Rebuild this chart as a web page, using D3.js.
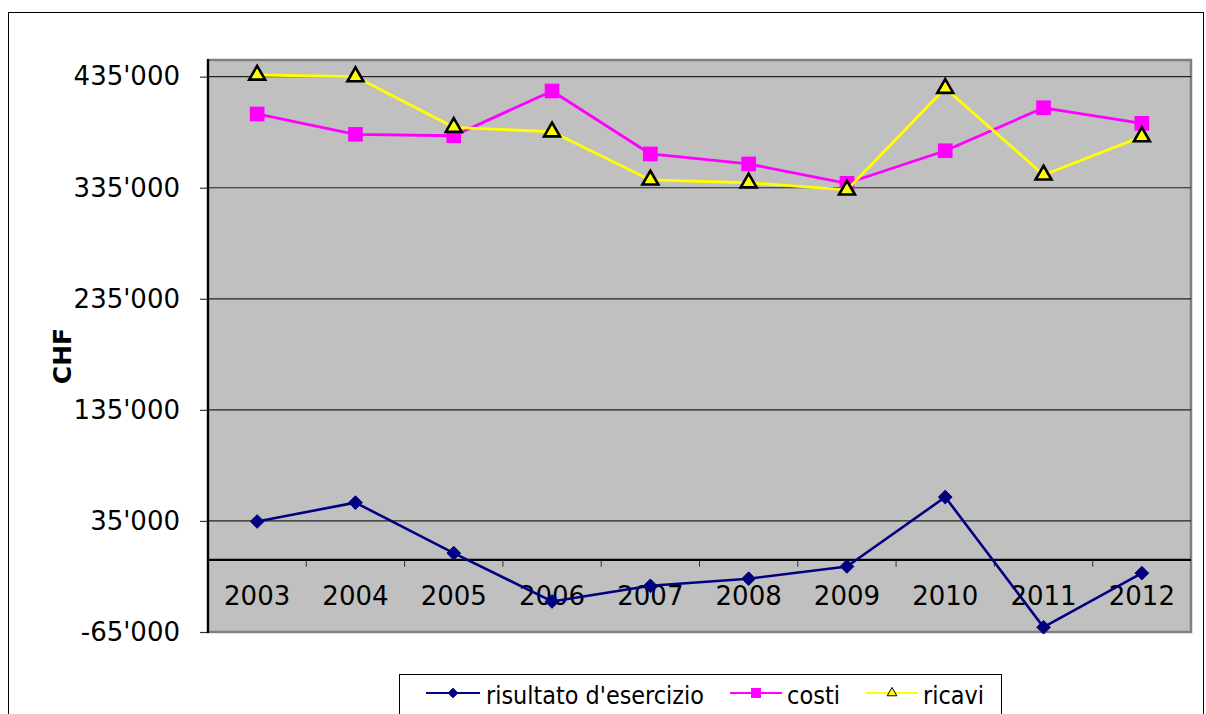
<!DOCTYPE html>
<html lang="it">
<head>
  <meta charset="UTF-8" />
  <title>risultato d'esercizio</title>
  <script src="https://d3js.org/d3.v7.min.js"></script>
  <style>
    html, body {
      margin: 0;
      padding: 0;
      background: #fff;
      font-family: "DejaVu Sans", Verdana, sans-serif;
    }
    svg { display: block; }
  </style>
</head>
<body>
  <svg width="1206" height="714"></svg>

  <script>
    // ---------------------------------------------------------
    // Data
    // ---------------------------------------------------------
    const years = ["2003", "2004", "2005", "2006", "2007", "2008", "2009", "2010", "2011", "2012"];
    const risultato = [34500, 51500, 6000, -37500, -23400, -17000, -6000, 56500, -60700, -12000];
    const costi = [401400, 383100, 381800, 422100, 365400, 356400, 339000, 368300, 407000, 393000];
    const ricavi = [436500, 435000, 389400, 385400, 342000, 339500, 333000, 424500, 346500, 381000];
    const yTicks = [-65000, 35000, 135000, 235000, 335000, 435000];
    const seriesNames = ["risultato d'esercizio", "costi", "ricavi"];

    // ---------------------------------------------------------
    // Layout
    // ---------------------------------------------------------
    const svg = d3.select("svg");
    const plot = { left: 208, right: 1191, top: 60, bottom: 632 };

    const x = d3.scaleBand()
      .domain(years)
      .range([plot.left, plot.right])
      .padding(0);
    const cx = d => x(d) + x.bandwidth() / 2;

    const y = d3.scaleLinear()
      .domain([-65000, 450000])
      .range([plot.bottom, plot.top]);

    const fmt = d3.formatLocale({
      decimal: ".", thousands: "'", grouping: [3], currency: ["", ""], minus: "-"
    }).format(",");

    // outer chart frame
    svg.append("rect")
      .attr("x", 8.5).attr("y", 12.5)
      .attr("width", 1195).attr("height", 720)
      .attr("fill", "#fff")
      .attr("stroke", "#000")
      .attr("stroke-width", 1);

    // plot background + border
    svg.append("rect")
      .attr("x", plot.left).attr("y", plot.top)
      .attr("width", plot.right - plot.left)
      .attr("height", plot.bottom - plot.top)
      .attr("fill", "#c0c0c0")
      .attr("stroke", "#808080")
      .attr("stroke-width", 2.5);

    // gridlines
    svg.append("g")
      .selectAll("line")
      .data(yTicks.slice(1))
      .join("line")
      .attr("x1", plot.left).attr("x2", plot.right)
      .attr("y1", d => y(d)).attr("y2", d => y(d))
      .attr("stroke", "#222")
      .attr("stroke-width", 1.2);

    // y axis (left)
    const yAxis = svg.append("g")
      .attr("transform", `translate(${plot.left},0)`)
      .call(d3.axisLeft(y).tickValues(yTicks).tickFormat(fmt).tickSize(8).tickPadding(20));
    yAxis.select(".domain").remove();
    yAxis.selectAll(".tick line").attr("stroke", "#333").attr("stroke-width", 1.2);
    yAxis.selectAll(".tick text")
      .attr("font-family", "DejaVu Sans, Verdana, sans-serif")
      .attr("font-size", 26)
      .attr("fill", "#000");

    svg.append("line")
      .attr("x1", plot.left).attr("x2", plot.left)
      .attr("y1", plot.top - 1).attr("y2", plot.bottom + 1)
      .attr("stroke", "#000")
      .attr("stroke-width", 2.2);

    // x axis on the zero line, ticks between categories
    const zeroY = y(0);
    svg.append("line")
      .attr("x1", plot.left).attr("x2", plot.right)
      .attr("y1", zeroY).attr("y2", zeroY)
      .attr("stroke", "#000")
      .attr("stroke-width", 2.2);

    svg.append("g")
      .selectAll("line")
      .data(years.slice(1))
      .join("line")
      .attr("x1", d => x(d)).attr("x2", d => x(d))
      .attr("y1", zeroY).attr("y2", zeroY + 7)
      .attr("stroke", "#333")
      .attr("stroke-width", 1);

    svg.append("g")
      .selectAll("text")
      .data(years)
      .join("text")
      .attr("x", d => cx(d))
      .attr("y", 605)
      .attr("text-anchor", "middle")
      .attr("font-size", 26)
      .attr("fill", "#000")
      .text(d => d);

    // y axis title
    svg.append("text")
      .attr("transform", "translate(71,356) rotate(-90)")
      .attr("text-anchor", "middle")
      .attr("font-size", 25)
      .attr("font-weight", "bold")
      .attr("fill", "#000")
      .text("CHF");

    // ---------------------------------------------------------
    // Series
    // ---------------------------------------------------------
    const line = d3.line()
      .x((d, i) => cx(years[i]))
      .y(d => y(d));

    const diamond = d3.symbol().type(d3.symbolDiamond2).size(120);
    const square = d3.symbol().type(d3.symbolSquare).size(215);
    const triangle = d3.symbol().type(d3.symbolTriangle).size(110);

    const series = [
      { values: risultato, color: "#000080", sym: diamond, stroke: "#000080", sw: 1, lw: 2.6, legendSym: d3.symbol().type(d3.symbolDiamond2).size(60) },
      { values: costi, color: "#ff00ff", sym: square, stroke: "none", sw: 0, lw: 2.8, legendSym: d3.symbol().type(d3.symbolSquare).size(100) },
      { values: ricavi, color: "#ffff00", sym: triangle, stroke: "#000", sw: 2.6, lw: 2.8, legendSym: d3.symbol().type(d3.symbolTriangle).size(40) }
    ];

    series.forEach(s => {
      svg.append("path")
        .datum(s.values)
        .attr("d", line)
        .attr("fill", "none")
        .attr("stroke", s.color)
        .attr("stroke-width", s.lw)
        .attr("stroke-linejoin", "round");

      svg.append("g")
        .selectAll("path")
        .data(s.values)
        .join("path")
        .attr("transform", (d, i) => `translate(${cx(years[i])},${y(d)})`)
        .attr("d", s.sym)
        .attr("fill", s.color)
        .attr("stroke", s.stroke)
        .attr("stroke-width", s.sw);
    });

    // ---------------------------------------------------------
    // Legend
    // ---------------------------------------------------------
    const legend = svg.append("g");
    legend.append("rect")
      .attr("x", 399.5).attr("y", 674.5)
      .attr("width", 602).attr("height", 60)
      .attr("fill", "#fff")
      .attr("stroke", "#000")
      .attr("stroke-width", 1);

    const legendItems = [
      { x0: 426, x1: 480, tx: 486, tw: 218 },
      { x0: 730, x1: 782, tx: 787, tw: 53 },
      { x0: 866, x1: 918, tx: 923, tw: 61 }
    ];
    const ly = 693;

    legendItems.forEach((it, i) => {
      const s = series[i];
      legend.append("line")
        .attr("x1", it.x0).attr("x2", it.x1)
        .attr("y1", ly).attr("y2", ly)
        .attr("stroke", s.color)
        .attr("stroke-width", 2.2);
      legend.append("path")
        .attr("transform", `translate(${(it.x0 + it.x1) / 2},${ly})`)
        .attr("d", s.legendSym)
        .attr("fill", s.color)
        .attr("stroke", s.stroke)
        .attr("stroke-width", i === 2 ? 1 : s.sw);
      legend.append("text")
        .attr("x", it.tx)
        .attr("y", 704)
        .attr("font-size", 25)
        .attr("textLength", it.tw)
        .attr("lengthAdjust", "spacingAndGlyphs")
        .attr("fill", "#000")
        .text(seriesNames[i]);
    });
  </script>
</body>
</html>
